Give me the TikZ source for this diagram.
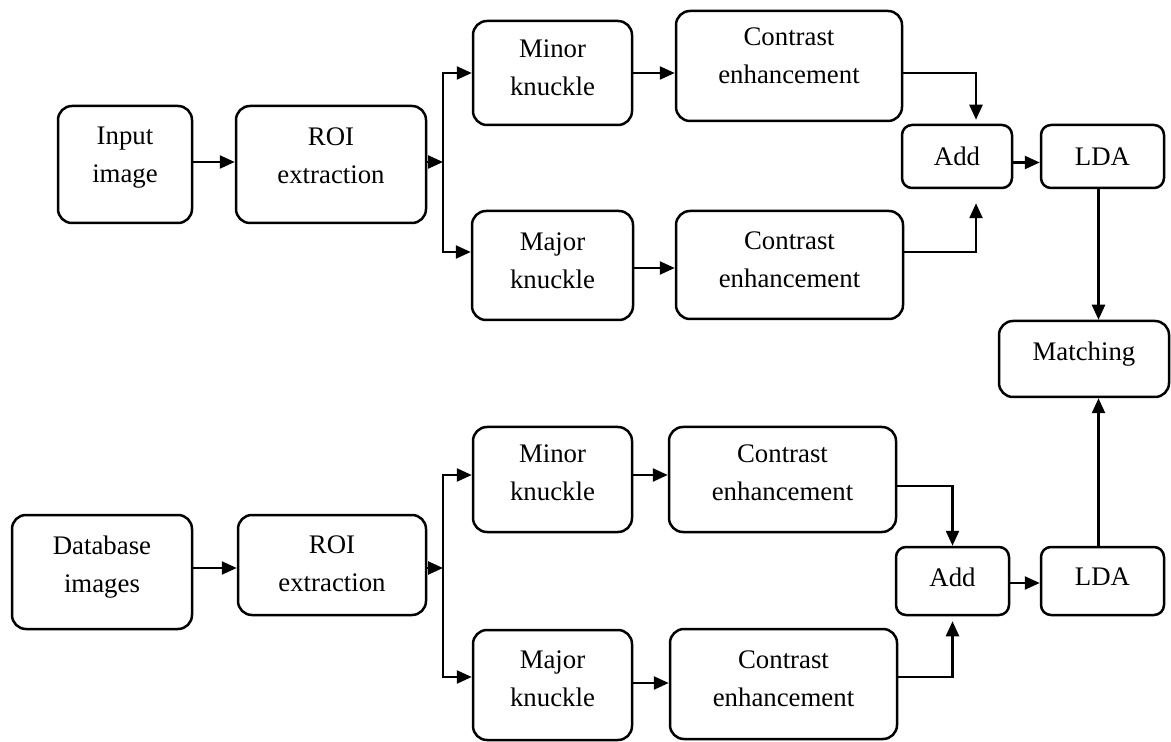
\documentclass[tikz,border=0pt]{standalone}
\usepackage{fontspec}
\setmainfont{Liberation Serif}
\usetikzlibrary{arrows.meta}

\begin{document}
\begin{tikzpicture}[x=0.5pt, y=-0.5pt,
                blk/.style={draw, line width=1.25pt, rounded corners=7pt},
                sblk/.style={blk, rounded corners=5pt},
                txt/.style={align=center, font=\fontsize{13.4}{19}\selectfont},
                arr/.style={line width=1.2pt, -{Triangle[length=7.5pt, width=6.5pt]}}]
                \useasboundingbox (0,0) rectangle (1171,742);

                \node[blk, minimum width=67pt, minimum height=58.5pt, label={[txt, yshift=3.25pt]center:Input\\image}] (in) at (125,164.5) {};
                \node[blk, minimum width=95pt, minimum height=58.5pt, label={[txt, yshift=4.5pt]center:ROI\\extraction}] (roi1) at (331,164.5) {};
                \node[blk, minimum width=79.5pt, minimum height=52pt, label={[txt, yshift=2.7pt]center:Minor\\knuckle}] (mi1) at (552.5,73) {};
                \node[blk, minimum width=113pt, minimum height=55pt, label={[txt, yshift=5pt]center:Contrast\\enhancement}] (ce1) at (789,66) {};
                \node[blk, minimum width=80.5pt, minimum height=54.5pt, label={[txt, yshift=2.5pt]center:Major\\knuckle}] (ma1) at (552.5,265.5) {};
                \node[blk, minimum width=113.5pt, minimum height=54pt, label={[txt, yshift=2.5pt]center:Contrast\\enhancement}] (ce2) at (789.5,265) {};
                \node[sblk, minimum width=55pt, minimum height=31.5pt, label={[txt]center:Add}] (ad1) at (957,156.5) {};
                \node[sblk, minimum width=61.5pt, minimum height=31.5pt, label={[txt]center:LDA}] (ld1) at (1102.5,156.5) {};
                \node[blk, minimum width=85pt, minimum height=38pt, label={[txt, yshift=2.5pt]center:Matching}] (mat) at (1084,359) {};

                \node[blk, minimum width=90pt, minimum height=57pt, label={[txt, yshift=2.25pt]center:Database\\images}] (db) at (102,572) {};
                \node[blk, minimum width=94pt, minimum height=50pt, label={[txt, yshift=0.5pt]center:ROI\\extraction}] (roi2) at (332,565) {};
                \node[blk, minimum width=79.5pt, minimum height=52.5pt, label={[txt, yshift=3.5pt]center:Minor\\knuckle}] (mi2) at (552.5,479.5) {};
                \node[blk, minimum width=113.5pt, minimum height=52.5pt, label={[txt, yshift=3.5pt]center:Contrast\\enhancement}] (ce3) at (782.5,479.5) {};
                \node[blk, minimum width=79.5pt, minimum height=55pt, label={[txt, yshift=3.2pt]center:Major\\knuckle}] (ma2) at (552.5,685) {};
                \node[blk, minimum width=113.5pt, minimum height=55pt, label={[txt, yshift=2.7pt]center:Contrast\\enhancement}] (ce4) at (783.5,684) {};
                \node[sblk, minimum width=56.5pt, minimum height=34pt, label={[txt, yshift=2pt]center:Add}] (ad2) at (952.5,581) {};
                \node[sblk, minimum width=61.5pt, minimum height=34pt, label={[txt, yshift=2pt]center:LDA}] (ld2) at (1102.5,581) {};

                \coordinate (sp1) at (443,162);
                \coordinate (sp2) at (443,568);

                \draw[arr] ([yshift=1.25pt]in.east) -- ([yshift=1.25pt]roi1.west);
                \draw[arr] ([yshift=1.25pt]roi1.east) -- (sp1);
                \draw[arr] (sp1) |- (mi1.west);
                \draw[arr] (sp1) |- ([yshift=6.75pt]ma1.west);
                \draw[arr] (mi1.east) -- (mi1.east -| ce1.west);
                \draw[arr] ([yshift=-1.25pt]ma1.east) -- ([yshift=-1.25pt]ma1.east -| ce2.west);
                \draw[arr, shorten >=2pt] (ce1.east |- mi1) -| ([xshift=9.5pt]ad1.north);
                \draw[arr, shorten >=7pt] ([yshift=6.5pt]ce2.east) -| ([xshift=9.5pt]ad1.south);
                \draw[arr] ([yshift=-3pt]ad1.east) -- ([yshift=-3pt]ld1.west);
                \draw[arr] ([xshift=-2pt]ld1.south) -- ([xshift=-2pt]ld1.south |- mat.north);

                \draw[arr] ([yshift=2pt]db.east) -- ([yshift=2pt]db.east -| roi2.west);
                \draw[arr] ([yshift=-1.5pt]roi2.east) -- (sp2);
                \draw[arr] (sp2) |- ([yshift=2.25pt]mi2.west);
                \draw[arr] (sp2) |- ([yshift=4pt]ma2.west);
                \draw[arr] ([yshift=2.25pt]mi2.east) -- ([yshift=2.25pt]mi2.east -| ce3.west);
                \draw[arr] ([yshift=1pt]ma2.east) -- ([yshift=1pt]ma2.east -| ce4.west);
                \draw[arr] ([yshift=-3.25pt]ce3.east) -| (ad2.north);
                \draw[arr, shorten >=2.5pt] ([yshift=3.5pt]ce4.east) -| (ad2.south);
                \draw[arr] ([yshift=-1pt]ad2.east) -- ([yshift=-1pt]ld2.west);
                \draw[arr] ([xshift=-2pt]ld2.north) -- ([xshift=-2pt]ld2.north |- mat.south);
            \end{tikzpicture}
\end{document}
